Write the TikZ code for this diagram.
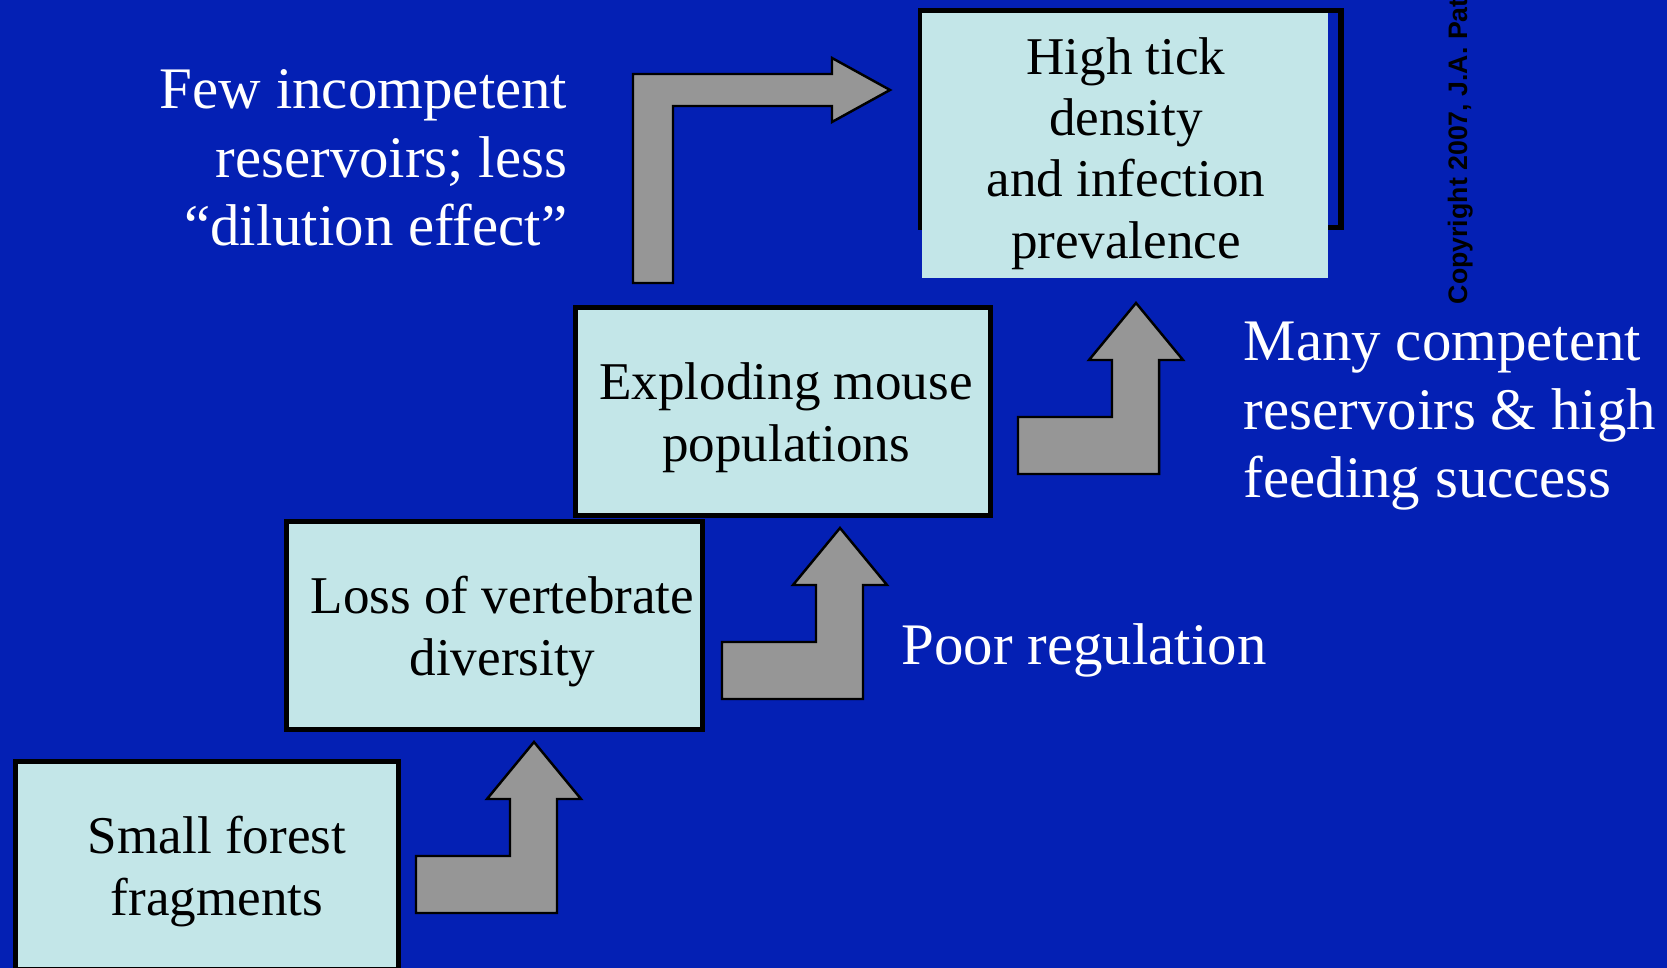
\documentclass[tikz,border=0pt]{standalone}
\usepackage{fontspec}
\setmainfont{Liberation Serif}
\newfontfamily\copyfont{Liberation Sans}
\definecolor{slideblue}{RGB}{4,32,180}
\definecolor{boxcyan}{RGB}{195,230,232}
\definecolor{arrowgray}{RGB}{150,150,150}
\tikzset{
  stage/.style={draw=black, line width=1.45pt, fill=boxcyan, inner sep=0pt},
  stagetext/.style={inner sep=0pt, align=center, font=\fontsize{15.1}{17.6}\selectfont},
  note/.style={text=white, inner sep=0pt, font=\fontsize{16.75}{19.6}\selectfont},
  bent/.style={draw=black, line width=0.7pt, fill=arrowgray, line join=miter},
}
\begin{document}
\begin{tikzpicture}[x=0.01cm, y=-0.01cm]
  \useasboundingbox (0,0) rectangle (1667,968);
  \clip (0,0) rectangle (1667,968);
  \fill[slideblue] (0,0) rectangle (1667,968);
  % === Stage boxes ===
  \node[stage, minimum width=3.83cm, minimum height=2.08cm] (frag) at (207,865.5) {};
  \node[stagetext] (fragtext) at ([shift={(10,6)}]frag.center) {Small forest\\fragments};
  \node[stage, minimum width=4.16cm, minimum height=2.08cm] (loss) at (494.5,625.5) {};
  \node[stagetext] (losstext) at ([shift={(8,6)}]loss.center) {Loss of vertebrate\\diversity};
  \node[stage, minimum width=4.15cm, minimum height=2.08cm] (mouse) at (783,411.5) {};
  \node[stagetext] (mousetext) at ([shift={(3,6)}]mouse.center) {Exploding mouse\\populations};
  % top box: frame first, the fill spills over its lower edge
  \draw[line width=1.45pt] (920.5,10.5) rectangle (1341,227.5);
  \node[stage, draw=none, minimum width=4.06cm, minimum height=2.65cm] (tick) at (1125,145.5) {};
  \node[stagetext, font=\fontsize{15.1}{17.45}\selectfont] (ticktext) at ([shift={(1,8)}]tick.center)
    {High tick\\density\\and infection\\prevalence};
  % === Bent arrows ===
  \draw[bent, shift={(416,913)}] (0,0) -- (141,0) -- (141,-114) -- (165,-114) -- (118,-171)
    -- (71,-114) -- (94,-114) -- (94,-57) -- (0,-57) -- cycle;
  \draw[bent, shift={(722,699)}] (0,0) -- (141,0) -- (141,-114) -- (165,-114) -- (118,-171)
    -- (71,-114) -- (94,-114) -- (94,-57) -- (0,-57) -- cycle;
  \draw[bent, shift={(1018,474)}] (0,0) -- (141,0) -- (141,-114) -- (165,-114) -- (118,-171)
    -- (71,-114) -- (94,-114) -- (94,-57) -- (0,-57) -- cycle;
  \draw[bent] (633,283) -- (633,74) -- (832,74) -- (832,58) -- (890,90) -- (832,122)
    -- (832,106) -- (673,106) -- (673,283) -- cycle;
  % === Side notes (base = last line) ===
  \node[note, align=right, anchor=base east] (few) at (568,246) {Few incompetent\\reservoirs; less\\“dilution effect”};
  \node[note, align=left, anchor=base west] (many) at (1243,498) {Many competent\\reservoirs \& high\\feeding success};
  \node[note, anchor=base west] (poor) at (901,665) {Poor regulation};
  % copyright, cut by the page edge
  \node[rotate=90, anchor=base west, inner sep=0pt,
    font=\copyfont\bfseries\fontsize{7.6}{9}\selectfont] (copy) at (1467,305) {Copyright 2007, J.A. Pat};
\end{tikzpicture}
\end{document}
